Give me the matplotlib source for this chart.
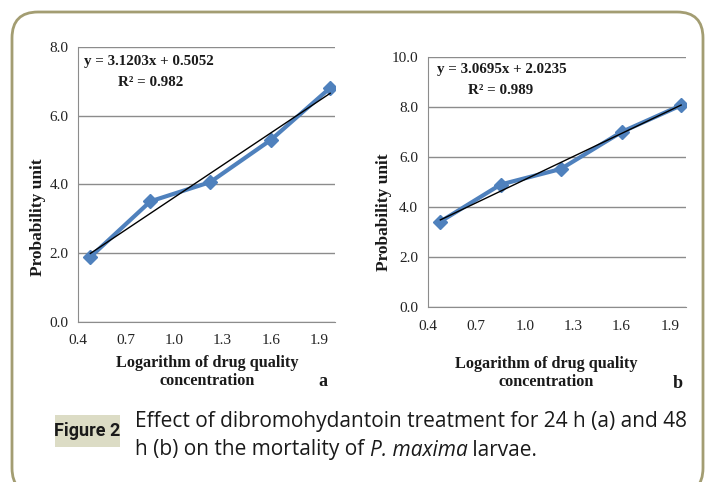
import numpy as np
import matplotlib
matplotlib.use("Agg")
import matplotlib.pyplot as plt
from matplotlib.patches import FancyBboxPatch

# data
log_conc = [0.477, 0.851, 1.224, 1.602, 1.970]
probit_24h = [1.89, 3.51, 4.07, 5.30, 6.81]
probit_48h = [3.42, 4.90, 5.52, 7.00, 8.06]
fit_24h = (3.1203, 0.5052, 0.982)
fit_48h = (3.0695, 2.0235, 0.989)
x_ticks = [0.4, 0.7, 1.0, 1.3, 1.6, 1.9]

SERIF = "Liberation Serif"
SANS = "Open Sans"
BLUE = "#4f81bd"
GRID = "#8c8c8c"
TXT = "#1a1a1a"

fig = plt.figure(figsize=(7.05, 4.82), dpi=100)

# background frame, pixel coordinates (y down)
bg = fig.add_axes([0, 0, 1, 1])
bg.set_xlim(0, 705)
bg.set_ylim(482, 0)
bg.axis("off")
bg.add_patch(FancyBboxPatch((12, 12), 691, 482, boxstyle="round,pad=0,rounding_size=26",
                            fc="white", ec="#a39d72", lw=2, clip_on=False))
bg.add_patch(FancyBboxPatch((55, 415), 65, 32, boxstyle="square,pad=0",
                            fc="#dcdcc5", ec="none"))
bg.text(87.5, 431, "Figure 2", ha="center", va="center", fontsize=13,
        fontweight="bold", family="Roboto", color=TXT)
bg.text(135, 421, "Effect of dibromohydantoin treatment for 24 h (a) and 48",
        ha="left", va="center", fontsize=15, family=SANS, color=TXT)

# second caption line with italic species name
renderer = fig.canvas.get_renderer()
inv = bg.transData.inverted()
x0 = 135
for piece, style in [("h (b) on the mortality of ", "normal"),
                     ("P. maxima", "italic"),
                     (" larvae.", "normal")]:
    t = bg.text(x0, 450, piece, ha="left", va="center", fontsize=15, family=SANS,
                style=style, color=TXT)
    ext = t.get_window_extent(renderer)
    x0 = inv.transform((ext.x1, ext.y0))[0]


def panel(rect, y, fit, ymax, eq_xy, r2_xy, ylab_xy, xlab_xy, letter, letter_xy):
    ax = fig.add_axes(rect)
    ax.patch.set_alpha(0)
    ax.set_xlim(0.4, 2.0)
    ax.set_ylim(0, ymax)
    yt = np.arange(0, ymax + 0.1, 2.0)
    ax.set_yticks(yt)
    ax.set_xticks(x_ticks)
    ax.set_yticklabels([f"{v:.1f}" for v in yt])
    ax.set_xticklabels([f"{v:.1f}" for v in x_ticks])
    ax.yaxis.grid(True, color=GRID, lw=1)
    ax.set_axisbelow(True)
    for s in ["top", "right"]:
        ax.spines[s].set_visible(False)
    for s in ["left", "bottom"]:
        ax.spines[s].set_color(GRID)
    ax.tick_params(length=0, labelsize=11)
    ax.tick_params(axis="x", pad=9)
    ax.tick_params(axis="y", pad=7)
    for lab in ax.get_xticklabels() + ax.get_yticklabels():
        lab.set_family(SERIF)
        lab.set_color("#222222")

    slope, icpt, r2 = fit
    xf = np.array([log_conc[0], log_conc[-1]])
    ax.plot(log_conc, y, color=BLUE, lw=3, marker="D", ms=7, zorder=2)
    ax.plot(xf, slope * xf + icpt, color="black", lw=1, zorder=3)

    bold = dict(fontweight="bold", family=SERIF, color=TXT, zorder=5)
    bg.text(*eq_xy, f"y = {slope:.4f}x + {icpt:.4f}", ha="left", va="center",
            fontsize=10.8, **bold)
    bg.text(*r2_xy, f"R\u00b2 = {r2:.3f}", ha="left", va="center", fontsize=10.8, **bold)
    bg.text(*ylab_xy, "Probability unit", ha="center", va="center", rotation=90,
            fontsize=12.5, **bold)
    bg.text(*xlab_xy, "Logarithm of drug quality\nconcentration", ha="center",
            va="center", fontsize=11.7, linespacing=1.15, **bold)
    bg.text(*letter_xy, letter, ha="center", va="center", fontsize=13, **bold)
    return ax


panel([0.1106, 0.332, 0.3645, 0.5705], probit_24h, fit_24h, 8.0,
      (84, 62), (118, 82), (38, 217), (207, 372), "a", (323, 382))
panel([0.607, 0.3624, 0.366, 0.520], probit_48h, fit_48h, 10.0,
      (437, 70), (468, 91), (384, 212), (546, 373), "b", (678, 384))

fig.savefig("out.png", dpi=100)
